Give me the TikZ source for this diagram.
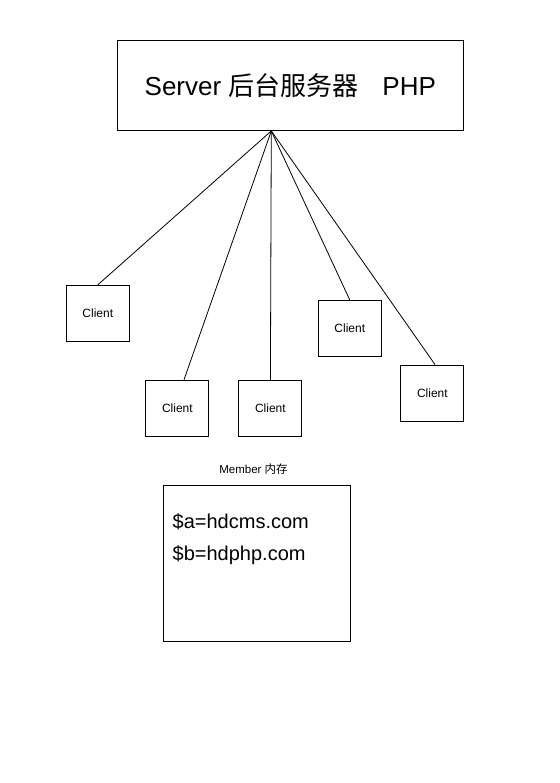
\documentclass[tikz,border=0pt]{standalone}
\usepackage{fontspec}
\setmainfont{Liberation Sans}
\newfontfamily\cjk{Noto Sans CJK SC}
\begin{document}
\begin{tikzpicture}[x=1pt,y=-1pt,
  box/.style={draw=black,line width=0.9pt,rectangle,inner sep=0pt},
  clientbox/.style={box,minimum width=63pt,minimum height=56pt,font=\fontsize{12}{14}\selectfont},
  link/.style={draw=black,line width=0.8pt}]
\useasboundingbox (0,0) rectangle (559,783);
\node[box,minimum width=346pt,minimum height=90pt,font=\fontsize{26}{30}\selectfont] (server) at (290.3,85.5)
  {Server {\cjk 后台服务器}\hspace{24pt}PHP};
\coordinate (hub) at ([xshift=-19pt]server.south);
\node[clientbox] (c1) at (97.8,313.3) {Client};
\node[clientbox] (c2) at (177.4,408.2) {Client};
\node[clientbox] (c3) at (270.4,408.2) {Client};
\node[clientbox] (c4) at (349.8,328.5) {Client};
\node[clientbox] (c5) at (432.4,393) {Client};
\draw[link] (hub) -- (c1.north);
\draw[link] (hub) -- ([xshift=6.6pt]c2.north);
\draw[link] (hub) -- (c3.north);
\draw[link] (hub) -- (c4.north);
\draw[link] (hub) -- ([xshift=2.6pt]c5.north);
\node[font=\fontsize{11.5}{14}\selectfont] (memlabel) at (253.5,469) {Member {\cjk 内存}};
\node[box,minimum width=187pt,minimum height=156pt] (mem) at (256.7,563.9) {};
\node[anchor=base west,inner sep=0pt,font=\fontsize{20}{24}\selectfont] (va) at (172.5,528.3) {\$a=hdcms.com};
\node[anchor=base west,inner sep=0pt,font=\fontsize{20}{24}\selectfont] (vb) at (172.5,560.7) {\$b=hdphp.com};
\end{tikzpicture}
\end{document}
